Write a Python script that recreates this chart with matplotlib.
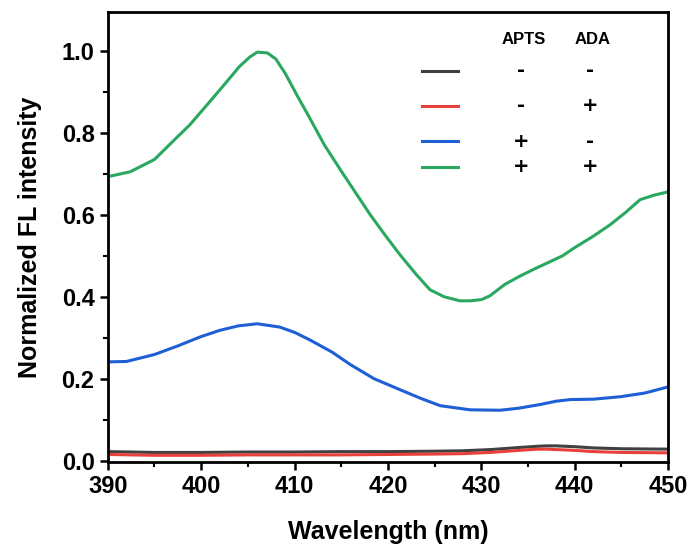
import matplotlib.pyplot as plt
from matplotlib.ticker import MultipleLocator

plt.rcParams['font.family'] = ['Liberation Sans', 'DejaVu Sans']
plt.rcParams['font.weight'] = 'bold'

wl_green = [390, 392.4, 395, 397, 398.8, 400.5, 402, 404.1, 405.2, 406, 407.1, 408, 409,
            410.3, 411.6, 413.2, 414.9, 416.5, 418.1, 419.7, 421.3, 423, 424.5, 426,
            427.7, 428.8, 430, 430.9, 432.5, 434.1, 435.7, 437.3, 438.7, 440, 442,
            443.8, 445.4, 447, 448.5, 450]
green = [0.693, 0.705, 0.735, 0.78, 0.82, 0.865, 0.905, 0.962, 0.985, 0.997, 0.995, 0.98,
         0.945, 0.89, 0.837, 0.77, 0.71, 0.655, 0.60, 0.55, 0.502, 0.455, 0.417, 0.40,
         0.39, 0.39, 0.393, 0.402, 0.43, 0.45, 0.468, 0.485, 0.50, 0.52, 0.548,
         0.576, 0.605, 0.637, 0.648, 0.656]

wl_blue = [390, 392, 395, 397.5, 399.9, 402, 404, 406, 408.4, 410, 411.6, 414, 416,
           418.5, 421.3, 423.5, 425.6, 428.8, 432, 434, 436.3, 438, 439.5, 442,
           444.9, 447.5, 450]
blue = [0.241, 0.242, 0.259, 0.28, 0.302, 0.318, 0.329, 0.334, 0.326, 0.313, 0.295,
        0.265, 0.234, 0.20, 0.173, 0.152, 0.134, 0.124, 0.123, 0.128, 0.137, 0.145,
        0.149, 0.150, 0.156, 0.165, 0.18]

wl_flat = [390, 395, 400, 405, 410, 415, 420, 425, 428, 431, 434, 436, 437, 438, 440,
           442, 445, 450]
black = [0.022, 0.020, 0.020, 0.021, 0.021, 0.022, 0.022, 0.023, 0.024, 0.027, 0.032,
         0.035, 0.036, 0.036, 0.034, 0.031, 0.029, 0.028]
red = [0.015, 0.013, 0.013, 0.014, 0.014, 0.014, 0.015, 0.016, 0.017, 0.020, 0.025,
       0.028, 0.028, 0.027, 0.025, 0.022, 0.020, 0.019]

colors = ['#404040', '#e8403a', '#1f5fd6', '#2aa860']
apts = ['-', '-', '+', '+']
ada = ['-', '+', '-', '+']

fig = plt.figure(figsize=(6.91, 5.44), dpi=100)
ax = fig.add_axes([0.156, 0.151, 0.811, 0.827])

ax.plot(wl_flat, black, color=colors[0], lw=2.2)
ax.plot(wl_flat, red, color=colors[1], lw=2.2)
ax.plot(wl_blue, blue, color=colors[2], lw=2.2)
ax.plot(wl_green, green, color=colors[3], lw=2.2)

ax.set_xlim(390, 450)
ax.set_ylim(-0.003, 1.095)
ax.xaxis.set_major_locator(MultipleLocator(10))
ax.xaxis.set_minor_locator(MultipleLocator(5))
ax.yaxis.set_major_locator(MultipleLocator(0.2))
ax.yaxis.set_minor_locator(MultipleLocator(0.1))
ax.yaxis.set_major_formatter(plt.FormatStrFormatter('%.1f'))
ax.tick_params(which='major', direction='out', length=6, width=1.8, labelsize=17)
ax.tick_params(which='minor', direction='out', length=3.5, width=1.5)
for s in ax.spines.values():
    s.set_linewidth(2)

ax.set_xlabel('Wavelength (nm)', fontsize=18, fontweight='bold', labelpad=16)
ax.set_ylabel('Normalized FL intensity', fontsize=18, fontweight='bold', labelpad=14)

# legend table
ys = [0.869, 0.791, 0.713, 0.656]
for c, y, a, b in zip(colors, ys, apts, ada):
    ax.plot([0.561, 0.625], [y, y], color=c, lw=2.2, transform=ax.transAxes)
    ax.text(0.7375, y, a, transform=ax.transAxes, ha='center', va='center',
            fontsize=14, fontweight='bold', family='DejaVu Sans')
    ax.text(0.861, y, b, transform=ax.transAxes, ha='center', va='center',
            fontsize=14, fontweight='bold', family='DejaVu Sans')
ax.text(0.742, 0.938, 'APTS', transform=ax.transAxes, ha='center', va='center',
        fontsize=12, fontweight='bold')
ax.text(0.865, 0.938, 'ADA', transform=ax.transAxes, ha='center', va='center',
        fontsize=12, fontweight='bold')

fig.savefig('out.png', dpi=100)
